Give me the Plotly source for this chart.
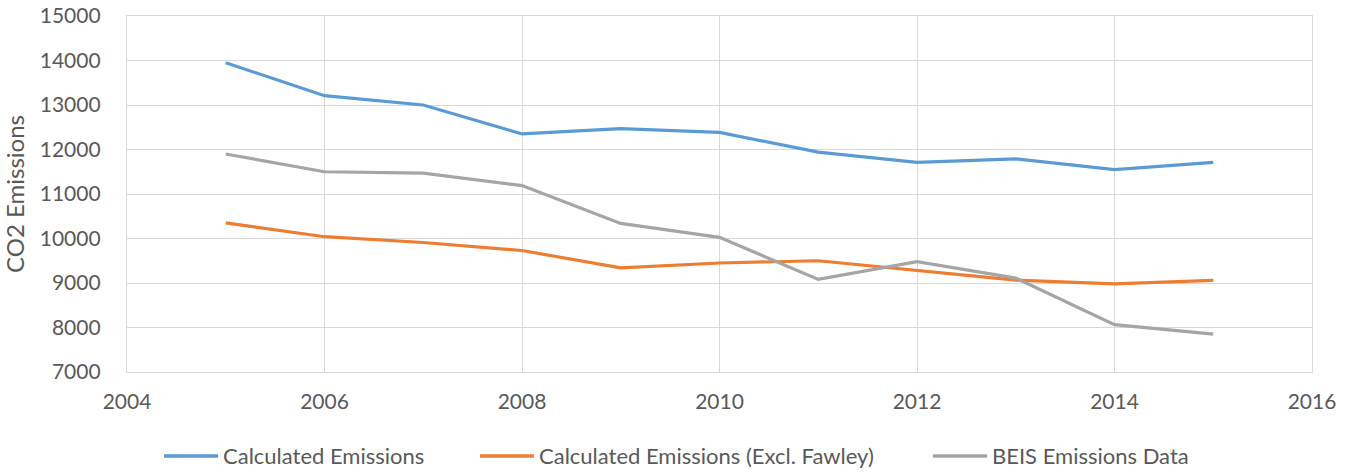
import plotly.graph_objects as go

years = [2005, 2006, 2007, 2008, 2009, 2010, 2011, 2012, 2013, 2014, 2015]
calculated = [13950, 13210, 13000, 12350, 12470, 12385, 11940, 11710, 11790, 11550, 11710]
calculated_excl_fawley = [10350, 10040, 9910, 9730, 9340, 9450, 9500, 9290, 9065, 8980, 9060]
beis = [11900, 11500, 11470, 11190, 10340, 10025, 9080, 9480, 9110, 8065, 7850]

series_names = ["Calculated Emissions", "Calculated Emissions (Excl. Fawley)", "BEIS Emissions Data"]
series_colors = ["#5B9BD5", "#ED7D31", "#A5A5A5"]

x_ticks = [2004, 2006, 2008, 2010, 2012, 2014, 2016]
y_ticks = [7000, 8000, 9000, 10000, 11000, 12000, 13000, 14000, 15000]

FONT = "Lato, Calibri, sans-serif"
TEXT = "#595959"
GRID = "#D9D9D9"

W, H = 1356, 472
M_L, M_R, M_T, M_B = 127, 44, 16, 100
PLOT_W = W - M_L - M_R
PLOT_H = H - M_T - M_B


def px_x(px):
    """Pixel column -> paper x fraction."""
    return (px - M_L) / PLOT_W


def px_y(py):
    """Pixel row (from top) -> paper y fraction."""
    return (H - M_B - py) / PLOT_H


fig = go.Figure()
for name, values, color in zip(series_names, [calculated, calculated_excl_fawley, beis], series_colors):
    fig.add_trace(go.Scatter(
        x=years, y=values, name=name, mode="lines",
        line=dict(color=color, width=3.2),
    ))

# Legend row below the plot: short coloured line followed by the series name
legend_row = 456
legend_starts = [164, 480, 933]
sample_len = 54
for start, name, color in zip(legend_starts, series_names, series_colors):
    fig.add_shape(
        type="line", xref="paper", yref="paper",
        x0=px_x(start), x1=px_x(start + sample_len),
        y0=px_y(legend_row), y1=px_y(legend_row),
        line=dict(color=color, width=3.6),
    )
    fig.add_annotation(
        text=name, xref="paper", yref="paper",
        x=px_x(start + sample_len + 3), y=px_y(legend_row),
        xanchor="left", yanchor="middle", showarrow=False,
        font=dict(family=FONT, size=22, color=TEXT),
    )

fig.update_layout(
    width=W, height=H,
    margin=dict(l=M_L, r=M_R, t=M_T, b=M_B, autoexpand=False),
    paper_bgcolor="white", plot_bgcolor="white",
    font=dict(family=FONT, size=21, color=TEXT),
    showlegend=False,
)
fig.update_xaxes(
    range=[2004, 2016], tickvals=x_ticks, ticktext=[str(v) for v in x_ticks],
    showgrid=True, gridcolor=GRID, gridwidth=1.3,
    showline=True, linecolor=GRID, linewidth=1.3, mirror=True,
    zeroline=False, ticks="", ticklabelstandoff=11, automargin=False,
    tickfont=dict(family=FONT, size=21, color=TEXT),
)
fig.update_yaxes(
    range=[7000, 15000], tickvals=y_ticks, ticktext=[str(v) for v in y_ticks],
    showgrid=True, gridcolor=GRID, gridwidth=1.3,
    showline=True, linecolor=GRID, linewidth=1.3, mirror=True,
    zeroline=False, ticks="", ticklabelstandoff=21, automargin=False,
    tickfont=dict(family=FONT, size=21, color=TEXT),
    title=dict(text="CO2 Emissions", font=dict(family=FONT, size=24, color=TEXT), standoff=8),
)

fig.write_html("out.html")
